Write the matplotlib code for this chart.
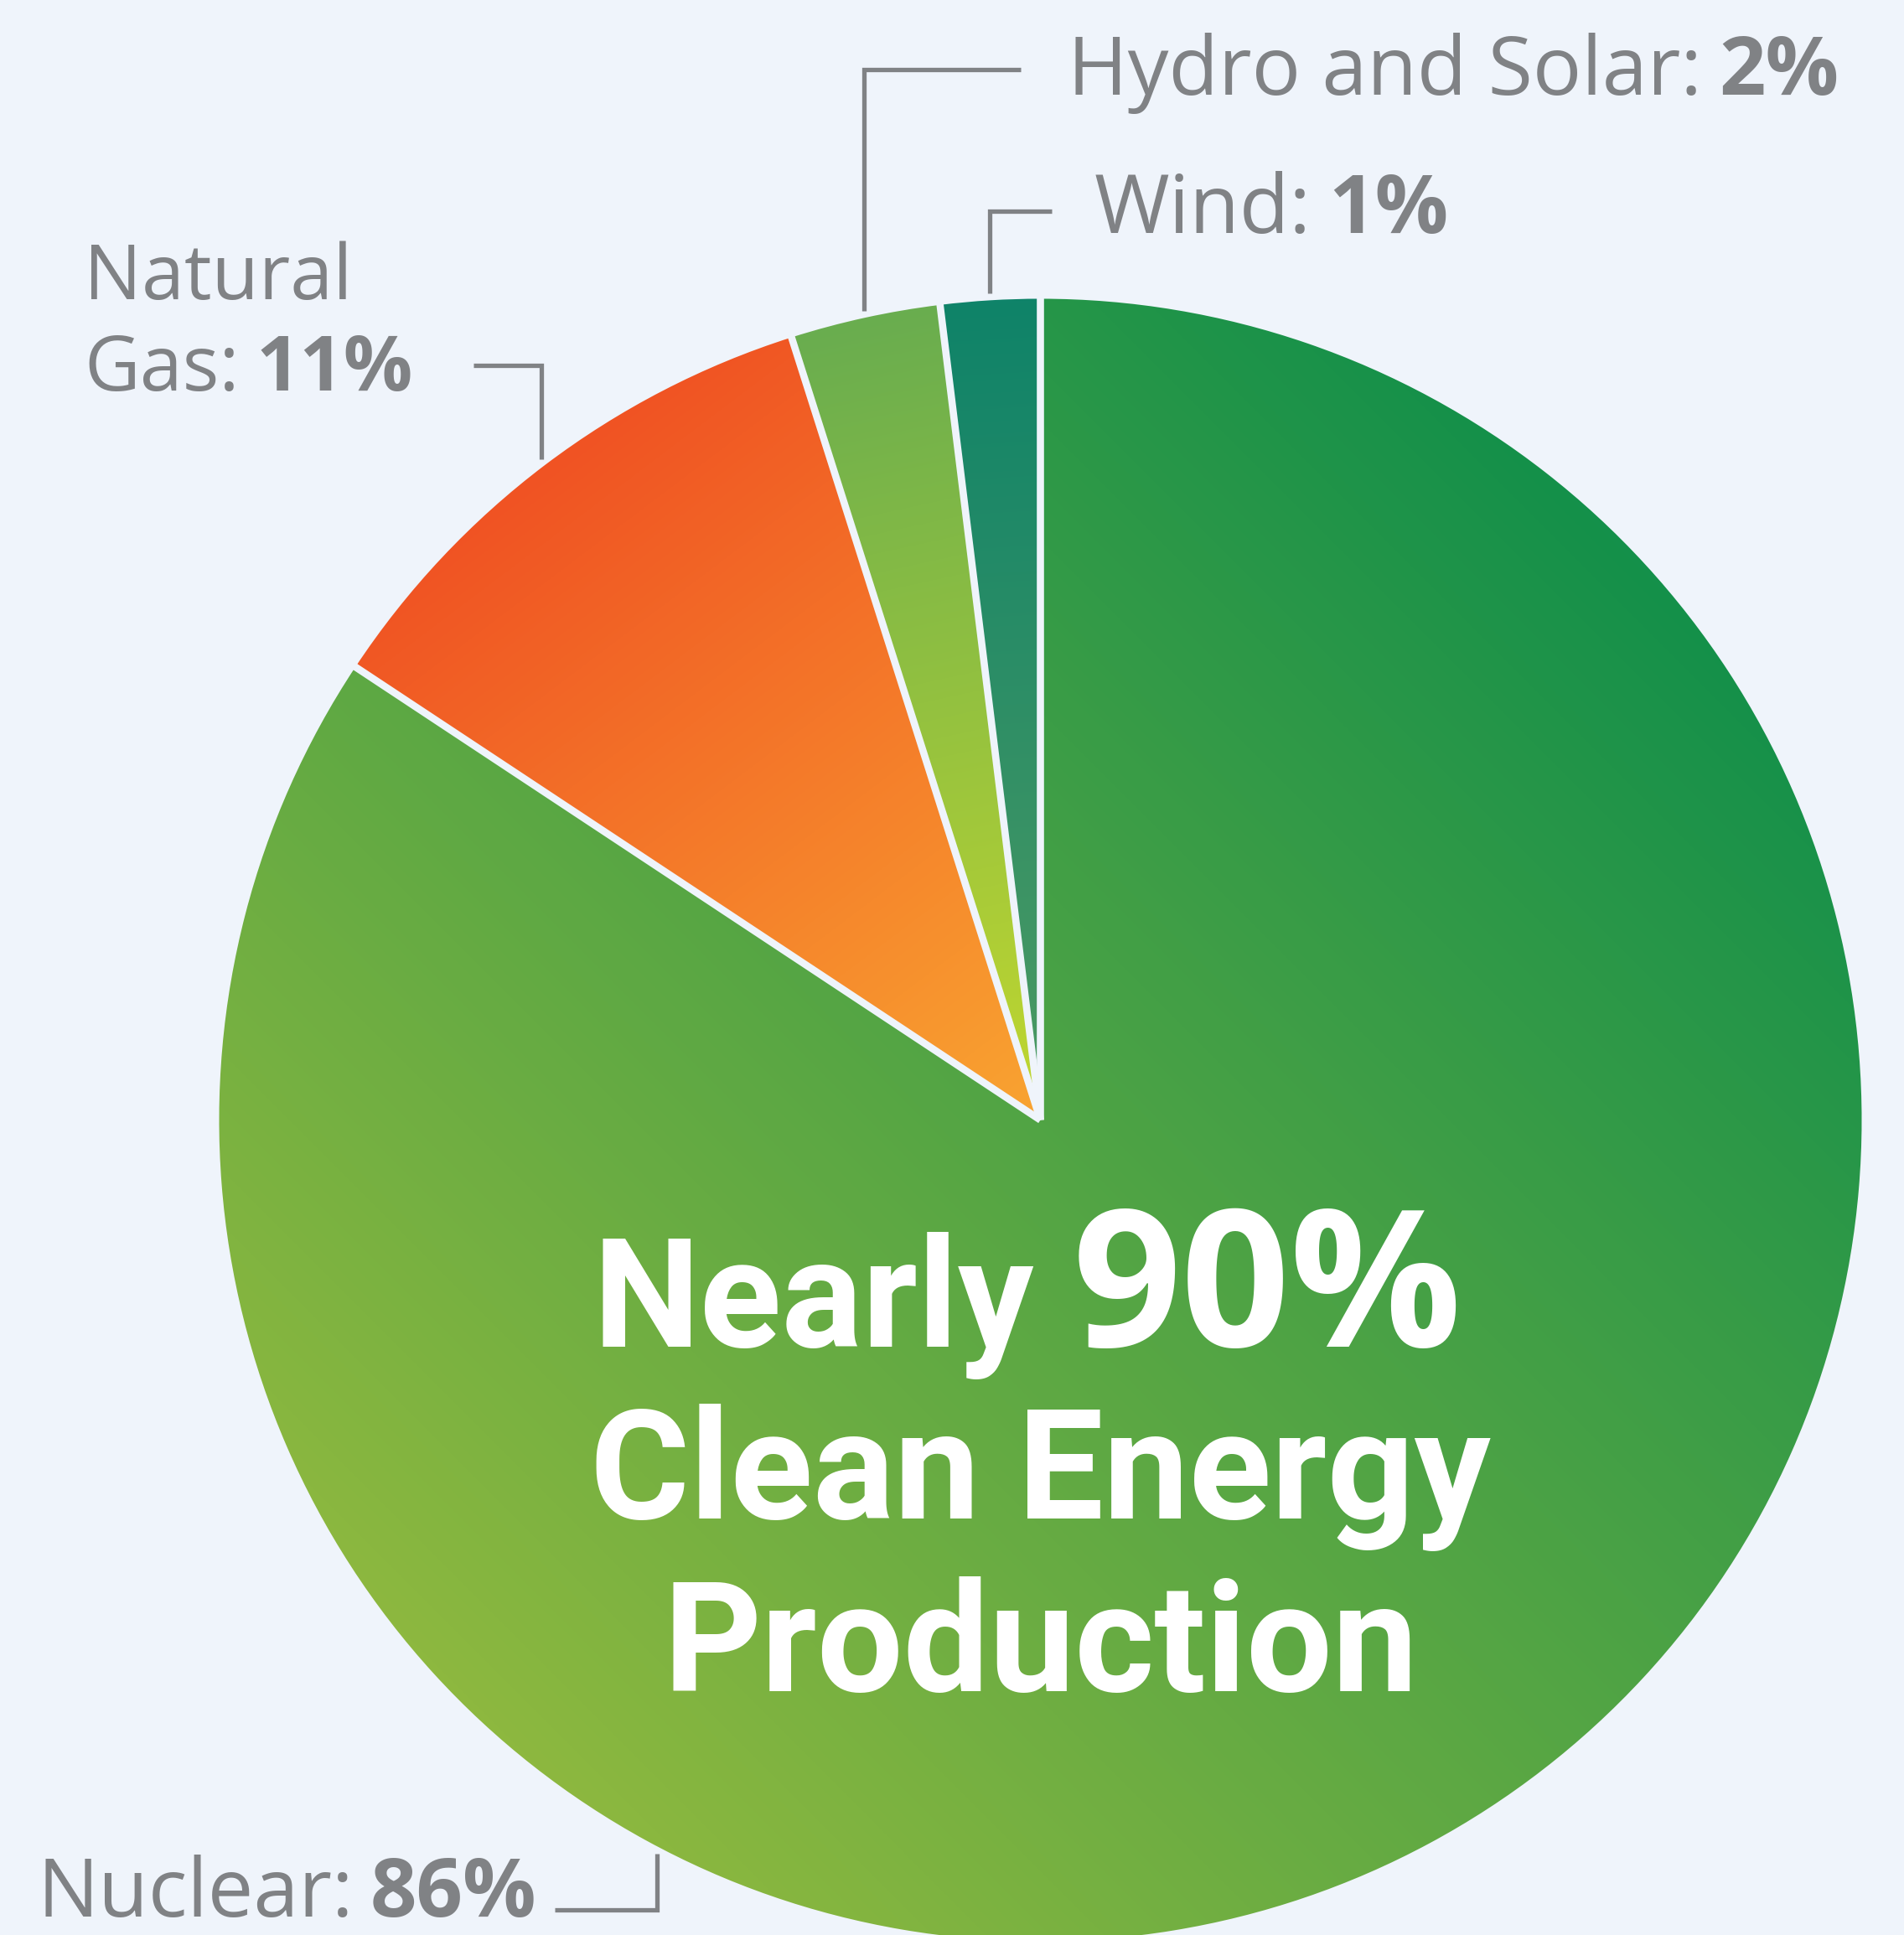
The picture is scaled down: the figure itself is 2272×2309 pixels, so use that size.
import numpy as np
import matplotlib.pyplot as plt
from matplotlib.colors import LinearSegmentedColormap

# Data (read from the graphic)
sources = ['Nuclear', 'Natural Gas', 'Hydro and Solar', 'Wind']
pct_labels = ['86%', '11%', '2%', '1%']
# slice sizes as they are drawn in the graphic (share of the circle, %)
drawn_share = [84.3, 10.8, 2.95, 1.95]
headline = ['Nearly', '90%', 'Clean Energy', 'Production']

# Style
W, H = 2272, 2309
BG = '#eff4fb'
GREY = '#808285'
grad_colors = [('#8db83f', '#14904a'),
               ('#f05323', '#f9a431'),
               ('#69ad4f', '#c1d72f'),
               ('#0f8369', '#4d9a63')]
grad_dir = [45, None, None, None]  # None -> from rim towards centre

cx, cy, R = 1241.5, 972.5, 980

fig = plt.figure(figsize=(W / 100, H / 100), dpi=100)
fig.patch.set_facecolor(BG)
ax = fig.add_axes([0, 0, 1, 1])
ax.set_facecolor(BG)

wedges, _ = ax.pie(drawn_share, startangle=90, counterclock=False,
                   center=(cx, cy), radius=R, frame=True,
                   wedgeprops=dict(linewidth=0))

# gradient fill for each wedge: an image clipped to the wedge
n = 600
pad = 20
ext = (cx - R - pad, cx + R + pad, cy - R - pad, cy + R + pad)
xs = np.linspace(ext[0], ext[1], n)
ys = np.linspace(ext[2], ext[3], n)
X, Y = np.meshgrid(xs, ys)
pts = np.column_stack([X.ravel(), Y.ravel()])
for w, (c0, c1), ang in zip(wedges, grad_colors, grad_dir):
    if ang is None:
        ang = (w.theta1 + w.theta2) / 2 + 180
    d = np.deg2rad(ang)
    T = (X - cx) * np.cos(d) + (Y - cy) * np.sin(d)
    inside = w.get_path().contains_points(pts).reshape(X.shape)
    t0, t1 = T[inside].min(), T[inside].max()
    Tn = np.clip((T - t0) / (t1 - t0), 0, 1)
    cmap = LinearSegmentedColormap.from_list('g', [c0, c1])
    im = ax.imshow(Tn, cmap=cmap, vmin=0, vmax=1, origin='lower',
                   extent=ext, interpolation='bilinear', zorder=1)
    im.set_clip_path(w)
    w.set_facecolor('none')

# gaps between slices
for w in wedges:
    a = np.deg2rad(w.theta1)
    ax.plot([cx, cx + (R + 20) * np.cos(a)], [cy, cy + (R + 20) * np.sin(a)],
            color=BG, lw=6.2, solid_capstyle='butt', zorder=3)

# leader lines: start at the rim, go vertical, then horizontal
leader_angle = [242.4, None, None, None]
elbow_y = [30, 1873, 2226, 2057]
end_x = [662, 565, 1218, 1255]
for w, a, ey, ex in zip(wedges, leader_angle, elbow_y, end_x):
    if a is None:
        a = (w.theta1 + w.theta2) / 2
    a = np.deg2rad(a)
    sx = cx + (R + 8) * np.cos(a)
    sy = cy + (R + 8) * np.sin(a)
    ax.plot([sx, sx, ex], [sy, ey, ey], color=GREY, lw=3.8,
            solid_joinstyle='miter', solid_capstyle='butt', zorder=4)

# labels
LFONT = 'Open Sans'
LSIZE = 70
label_pos = [(44, 22), (100, 1843), (1274, 2196), (1306, 2031)]


def two_part(x, y, name, pct, size=LSIZE):
    t = ax.text(x, y, name, fontsize=size, family=LFONT, weight='normal',
                color=GREY, ha='left', va='baseline', zorder=5)
    ax.annotate(pct, xy=(1, 0), xycoords=t, xytext=(20, 0),
                textcoords='offset pixels', fontsize=size, family=LFONT,
                weight='bold', color=GREY, ha='left', va='bottom', zorder=5)


for src, pct, (x, y) in zip(sources, pct_labels, label_pos):
    if src == 'Natural Gas':
        ax.text(x, y + 109, 'Natural', fontsize=66, family=LFONT,
                weight='normal', color=GREY, ha='left', va='baseline', zorder=5)
        two_part(x, y, 'Gas:', pct, size=66)
    else:
        two_part(x, y, src + ':', pct)

# headline in the nuclear slice
ax.text(1234, 702, headline[0], fontsize=130, family='Roboto', weight='bold',
        color='white', ha='right', va='baseline', zorder=5)
ax.text(1280, 702, headline[1], fontsize=164, family='Open Sans', weight='bold',
        color='white', ha='left', va='baseline', zorder=5)
ax.text(cx, 497, headline[2], fontsize=131, family='Roboto', weight='bold',
        color='white', ha='center', va='baseline', zorder=5)
ax.text(cx, 291, headline[3], fontsize=131, family='Roboto', weight='bold',
        color='white', ha='center', va='baseline', zorder=5)

ax.set_xlim(0, W)
ax.set_ylim(0, H)
ax.set_aspect('auto')
ax.axis('off')

fig.savefig('out.png', dpi=100, facecolor=BG)
